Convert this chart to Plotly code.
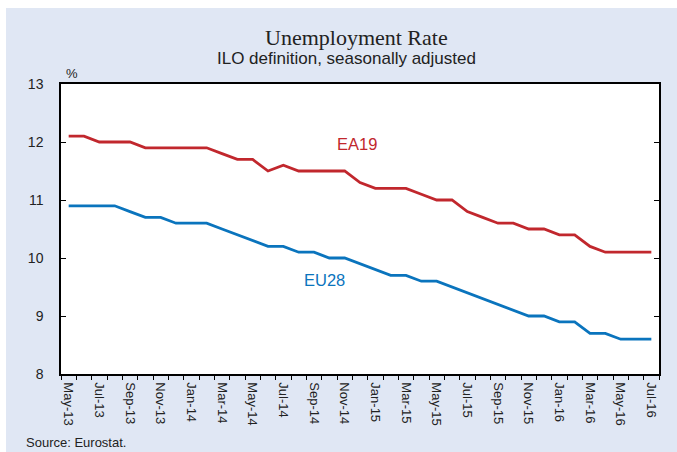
import plotly.graph_objects as go

months = ["May-13","Jun-13","Jul-13","Aug-13","Sep-13","Oct-13","Nov-13","Dec-13",
          "Jan-14","Feb-14","Mar-14","Apr-14","May-14","Jun-14","Jul-14","Aug-14","Sep-14","Oct-14","Nov-14","Dec-14",
          "Jan-15","Feb-15","Mar-15","Apr-15","May-15","Jun-15","Jul-15","Aug-15","Sep-15","Oct-15","Nov-15","Dec-15",
          "Jan-16","Feb-16","Mar-16","Apr-16","May-16","Jun-16","Jul-16"]

ea19 = [12.1,12.1,12.0,12.0,12.0,11.9,11.9,11.9,
        11.9,11.9,11.8,11.7,11.7,11.5,11.6,11.5,11.5,11.5,11.5,11.3,
        11.2,11.2,11.2,11.1,11.0,11.0,10.8,10.7,10.6,10.6,10.5,10.5,
        10.4,10.4,10.2,10.1,10.1,10.1,10.1]

eu28 = [10.9,10.9,10.9,10.9,10.8,10.7,10.7,10.6,
        10.6,10.6,10.5,10.4,10.3,10.2,10.2,10.1,10.1,10.0,10.0,9.9,
        9.8,9.7,9.7,9.6,9.6,9.5,9.4,9.3,9.2,9.1,9.0,9.0,
        8.9,8.9,8.7,8.7,8.6,8.6,8.6]

y_ticks = [8, 9, 10, 11, 12, 13]

RED = "#C1272D"
BLUE = "#0A74BD"
PANEL = "#E0E7F4"

idx = list(range(len(months)))
label_idx = idx[::2]
label_txt = months[::2]

fig = go.Figure()
fig.add_trace(go.Scatter(x=idx, y=ea19, mode="lines", line=dict(color=RED, width=2.8),
                         name="EA19", showlegend=False, hoverinfo="skip"))
fig.add_trace(go.Scatter(x=idx, y=eu28, mode="lines", line=dict(color=BLUE, width=2.8),
                         name="EU28", showlegend=False, hoverinfo="skip"))

# plot area in screen pixels (body margin removed)
L, R, T, B = 61, 659, 84, 374
W, H = 677, 452
pw, ph = R - L, B - T

def px(x):
    return (x - L) / pw

def py(y):
    return (B - y) / ph

fig.add_shape(type="rect", xref="paper", yref="paper", x0=px(6), x1=px(W + 4), y0=py(H + 4), y1=py(8),
              fillcolor=PANEL, line=dict(width=0), layer="below")
fig.add_shape(type="rect", xref="paper", yref="paper", x0=0, x1=1, y0=0, y1=1,
              fillcolor="white", line=dict(width=0), layer="below")

fig.update_layout(
    width=W, height=H,
    margin=dict(l=L, r=W - R, t=T, b=H - B, pad=0),
    paper_bgcolor="white",
    plot_bgcolor="white",
    font=dict(family="Liberation Sans, Arial, sans-serif", color="#222222"),
    showlegend=False,
)

fig.update_xaxes(
    range=[-0.5, len(months) - 0.5],
    tickmode="array", tickvals=label_idx, ticktext=label_txt,
    tickangle=90, ticks="", showgrid=False, zeroline=False,
    tickfont=dict(size=13, color="#222222"),
    showline=True, linecolor="black", linewidth=1.5, mirror=True,
    minor=dict(ticks="outside", tick0=-0.5, dtick=1, ticklen=4, tickcolor="black", tickwidth=1, showgrid=False),
    ticklabelstandoff=4,
)
fig.update_yaxes(
    range=[8, 13], tickmode="array", tickvals=y_ticks, ticktext=[str(v) for v in y_ticks],
    ticks="inside", ticklen=5, tickcolor="black", showgrid=False, zeroline=False,
    tickfont=dict(size=14, color="#222222"),
    showline=True, linecolor="black", linewidth=1.5, mirror="ticks",
    ticklabelstandoff=13,
)

fig.add_annotation(text="Unemployment Rate", xref="paper", yref="paper", x=px(356), y=py(37),
                   showarrow=False, xanchor="center", yanchor="middle",
                   font=dict(family="Liberation Serif, Times New Roman, serif", size=22, color="#222222"))
fig.add_annotation(text="ILO definition, seasonally adjusted", xref="paper", yref="paper", x=px(346), y=py(58),
                   showarrow=False, xanchor="center", yanchor="middle",
                   font=dict(size=17, color="#222222"))
fig.add_annotation(text="%", xref="paper", yref="paper", x=px(72), y=py(73),
                   showarrow=False, xanchor="center", yanchor="middle",
                   font=dict(size=13, color="#222222"))
fig.add_annotation(text="Source: Eurostat.", xref="paper", yref="paper", x=px(24), y=py(442),
                   showarrow=False, xanchor="left", yanchor="middle",
                   font=dict(size=13, color="#222222"))
fig.add_annotation(text="EA19", xref="paper", yref="paper", x=px(357), y=py(143.5),
                   showarrow=False, xanchor="center", yanchor="middle",
                   font=dict(size=16.5, color=RED))
fig.add_annotation(text="EU28", xref="paper", yref="paper", x=px(324), y=py(280),
                   showarrow=False, xanchor="center", yanchor="middle",
                   font=dict(size=16.5, color=BLUE))

fig.write_html(
    "out.html",
    config={"displayModeBar": False},
    post_script="document.body.style.margin='0';document.documentElement.style.overflow='hidden';",
)
